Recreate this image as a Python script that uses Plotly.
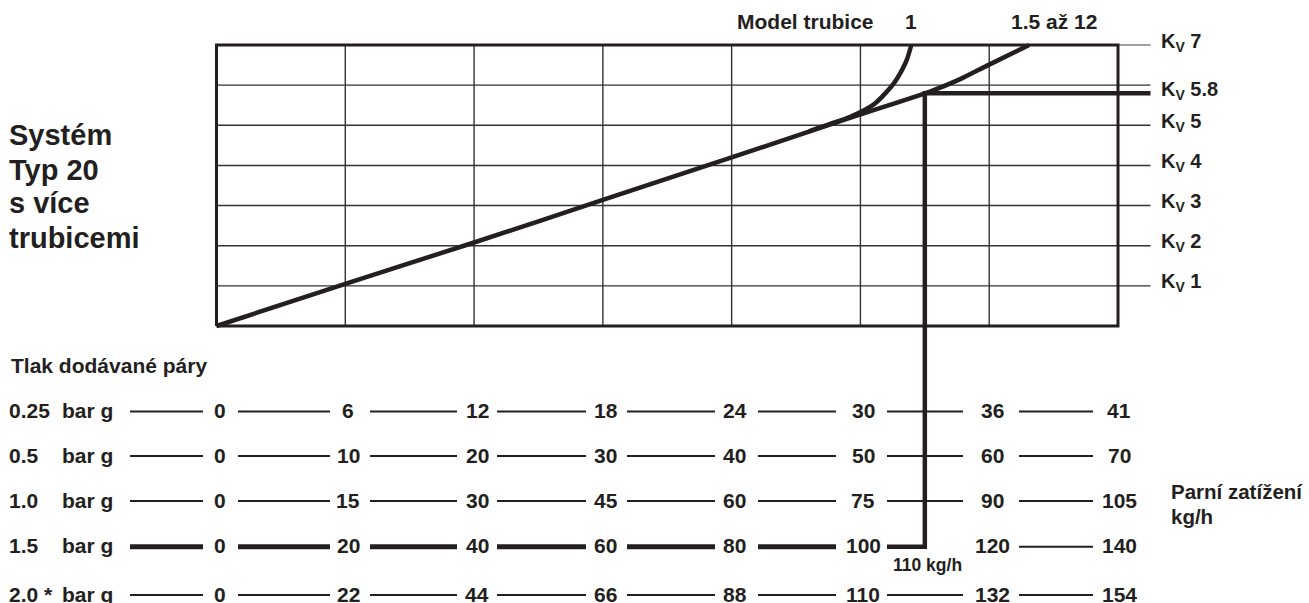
import plotly.graph_objects as go

# ---------------- data ----------------
# steam load columns (kg/h) for each supply pressure
load_0_25 = [0, 6, 12, 18, 24, 30, 36, 41]
load_0_5 = [0, 10, 20, 30, 40, 50, 60, 70]
load_1_0 = [0, 15, 30, 45, 60, 75, 90, 105]
load_1_5 = [0, 20, 40, 60, 80, 100, 120, 140]   # x axis of the Kv chart
load_2_0 = [0, 22, 44, 66, 88, 110, 132, 154]
pressure_labels = ["0.25", "0.5", "1.0", "1.5", "2.0 *"]
row_loads = [load_0_25, load_0_5, load_1_0, load_1_5, load_2_0]

kv_grid = [1, 2, 3, 4, 5, 6]
kv_tick_values = [1, 2, 3, 4, 5, 5.8, 7]
kv_tick_labels = ["1", "2", "3", "4", "5", "5.8", "7"]

# Kv curve for trap models 1.5 to 12 (x = load at 1.5 bar g)
curve_multi_x = [0, 20, 40, 60, 80, 100, 110.8, 115.5, 119.6, 126.2]
curve_multi_kv = [0, 1.05, 2.08, 3.14, 4.20, 5.27, 5.84, 6.15, 6.48, 7.0]
# Kv curve for trap model 1
curve_single_x = [92, 96, 98.5, 100.5, 102.3, 104, 105.3, 106.3, 107.2, 107.9]
curve_single_kv = [4.85, 5.07, 5.22, 5.37, 5.55, 5.82, 6.07, 6.33, 6.63, 7.0]

example_load = 110      # kg/h at 1.5 bar g
example_kv = 5.8
example_row = 3         # 1.5 bar g row

# ---------------- layout constants (pixels) ----------------
W, H = 1309, 603
BOX_L, BOX_R = 216.5, 1118
KV0_PY, KV7_PY = 326, 45
X_MAX = 140
PX_PER_X = (BOX_R - BOX_L) / X_MAX
PX_PER_KV = (KV0_PY - KV7_PY) / 7
ROW_PY = [411.5, 456, 501, 546.7, 595]
TICK_END_PX = 1150.5
LEAD_PX = (130, 203)
SEG_PX = [(238, 330), (370, 457), (497, 586), (627, 715), (758, 836), (887, 963), (1019, 1093)]
INK = "#231f20"
FONT = "Liberation Sans, Arial, Helvetica, sans-serif"


def px2x(px):
    return (px - BOX_L) / PX_PER_X


def py2y(py):
    return (KV0_PY - py) / PX_PER_KV


def mid(baseline, fs):
    return py2y(baseline - 0.35 * fs)


fig = go.Figure()

# grid lines
gx, gy = [], []
for c in load_1_5[1:-1]:
    gx += [c, c, None]
    gy += [0, 7, None]
for k in kv_grid:
    gx += [0, px2x(TICK_END_PX), None]
    gy += [k, k, None]
fig.add_trace(go.Scatter(x=gx, y=gy, mode="lines", line=dict(color="#333333", width=1.4), hoverinfo="skip"))
fig.add_trace(go.Scatter(x=[X_MAX, px2x(TICK_END_PX)], y=[7, 7], mode="lines",
                         line=dict(color="#808080", width=1.4), hoverinfo="skip"))

# frame
fig.add_trace(go.Scatter(x=[0, X_MAX, X_MAX, 0, 0], y=[0, 0, 7, 7, 0], mode="lines",
                         line=dict(color=INK, width=3), hoverinfo="skip"))

# Kv curves
fig.add_trace(go.Scatter(x=curve_multi_x, y=curve_multi_kv, mode="lines",
                         line=dict(color=INK, width=4.5, shape="spline", smoothing=0.6), hoverinfo="skip"))
fig.add_trace(go.Scatter(x=curve_single_x, y=curve_single_kv, mode="lines",
                         line=dict(color=INK, width=4.5, shape="spline", smoothing=0.8), hoverinfo="skip"))

# pressure scale rows
thin_x, thin_y, thick_x, thick_y = [], [], [], []
for r, py in enumerate(ROW_PY):
    yv = py2y(py)
    segs = [LEAD_PX] + SEG_PX
    for i, (a, b) in enumerate(segs):
        if r == example_row:
            if i == 6:  # replaced by example path
                continue
            if i == 7:
                thin_x += [px2x(a), px2x(b), None]
                thin_y += [yv, yv, None]
                continue
            thick_x += [px2x(a), px2x(b), None]
            thick_y += [yv, yv, None]
        else:
            thin_x += [px2x(a), px2x(b), None]
            thin_y += [yv, yv, None]
fig.add_trace(go.Scatter(x=thin_x, y=thin_y, mode="lines", line=dict(color=INK, width=2), hoverinfo="skip"))
fig.add_trace(go.Scatter(x=thick_x, y=thick_y, mode="lines", line=dict(color=INK, width=5), hoverinfo="skip"))

# example path: 110 kg/h at 1.5 bar g -> Kv 5.8
ry = py2y(ROW_PY[example_row])
fig.add_trace(go.Scatter(
    x=[px2x(SEG_PX[5][0]), example_load, example_load, px2x(TICK_END_PX)],
    y=[ry, ry, example_kv, example_kv],
    mode="lines", line=dict(color=INK, width=4.5), hoverinfo="skip"))

ann = []


def txt(text, x, y, size, xanchor="left", xshift=0, yshift=0):
    ann.append(dict(text=text, x=x, y=y, xref="x", yref="y", showarrow=False,
                    xanchor=xanchor, yanchor="middle", xshift=xshift, yshift=yshift,
                    font=dict(family=FONT, size=size, color=INK, weight="bold")))


# left title
for line, base in zip(["Systém", "Typ 20", "s více", "trubicemi"], [145, 180, 213.5, 248]):
    txt(line, px2x(7), mid(base, 29), 29)

# top labels
txt("Model trubice", px2x(734.5), mid(29.3, 21), 21)
txt("1", px2x(911), mid(29.3, 21), 21, "center")
txt("1.5 až 12", px2x(1054), mid(29.3, 21), 21, "center")

# Kv labels
for v, lab in zip(kv_tick_values, kv_tick_labels):
    txt("K<sub>V</sub> " + lab, px2x(1158.5), v, 20, yshift=3)

# pressure rows
txt("Tlak dodávané páry", px2x(9), mid(373.3, 21), 21)
for r, (plab, loads) in enumerate(zip(pressure_labels, row_loads)):
    yv = py2y(ROW_PY[r] - 1)
    txt(plab, px2x(7), yv, 21)
    txt("bar g", px2x(59.5), yv, 21)
    for c, v in zip(load_1_5, loads):
        txt(str(v), c, yv, 21, "center", xshift=3 if c < X_MAX else 1)

txt(f"{example_load} kg/h", example_load, py2y(564.5), 17.5, "center", xshift=3)
txt("Parní zatížení", px2x(1169), mid(499, 20.5), 20.5)
txt("kg/h", px2x(1169), mid(523.3, 20.5), 20.5)

fig.update_layout(
    width=W, height=H, margin=dict(l=0, r=0, t=0, b=0),
    paper_bgcolor="white", plot_bgcolor="white", showlegend=False, hovermode=False,
    xaxis=dict(range=[-BOX_L / PX_PER_X, (W - BOX_L) / PX_PER_X], visible=False, fixedrange=True),
    yaxis=dict(range=[(KV0_PY - H) / PX_PER_KV, KV0_PY / PX_PER_KV], visible=False, fixedrange=True),
    annotations=ann,
)

fig.write_html("out.html", config={"displayModeBar": False},
               post_script="document.body.style.margin='0';document.body.style.overflow='hidden';")
